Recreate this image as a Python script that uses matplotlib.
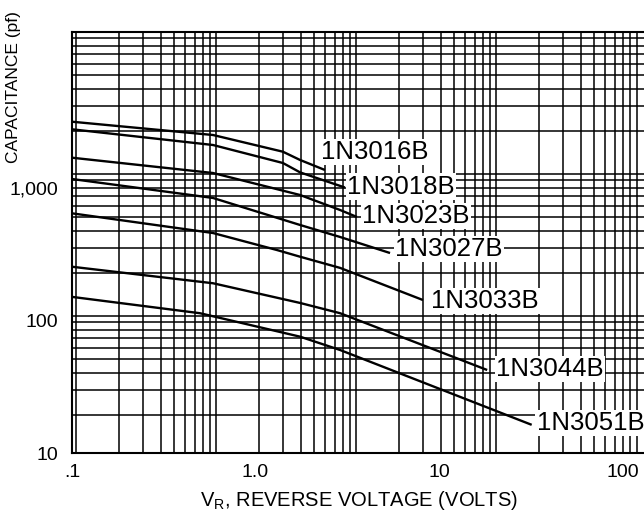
import matplotlib
matplotlib.use('Agg')
import matplotlib.pyplot as plt
from matplotlib.ticker import LogLocator, NullFormatter, FixedLocator, FixedFormatter

# curves (volts, pF)
v_3016 = [0.1, 0.587, 1.41, 1.75, 2.39]
c_3016 = [3131, 2486, 1861, 1612, 1355]
v_3018 = [0.1, 0.587, 1.41, 1.75, 3.07]
c_3018 = [2745, 2090, 1530, 1300, 1000]
v_3023 = [0.1, 0.587, 1.75, 2.89, 3.57]
c_3023 = [1677, 1286, 878, 677, 600]
v_3027 = [0.1, 0.587, 1.75, 2.89, 5.41]
c_3027 = [1159, 834, 522, 424, 321]
v_3033 = [0.1, 0.587, 1.31, 1.75, 2.89, 8.18]
c_3033 = [639, 454, 338, 301, 248, 142]
v_3044 = [0.1, 0.587, 1.75, 2.89, 18.3]
c_3044 = [253, 190, 135, 113, 42.2]
v_3051 = [0.1, 0.498, 1.75, 2.89, 32.0]
c_3051 = [150, 113, 75.2, 59.7, 16.3]

names = ['1N3016B', '1N3018B', '1N3023B', '1N3027B', '1N3033B', '1N3044B', '1N3051B']
volts = [v_3016, v_3018, v_3023, v_3027, v_3033, v_3044, v_3051]
caps = [c_3016, c_3018, c_3023, c_3027, c_3033, c_3044, c_3051]
# label offsets from the end of each curve (pixels)
offsets = [(-4, 18), (2, 1), (5, 1), (5, 4), (8, -1), (9, 1), (5, 2)]

x_ticks = [0.1, 1, 10, 100]
x_labels = ['.1', '1.0', '10', '100']
y_ticks = [10, 100, 1000]
y_labels = ['10', '100', '1,000']

plt.rcParams['font.family'] = ['Liberation Sans', 'DejaVu Sans']

fig = plt.figure(figsize=(6.44, 5.21), dpi=100)
rect = [72 / 644, 68 / 521, 574 / 644, 421.3 / 521]

# log paper underneath (its decades don't line up with the printed labels)
gx = fig.add_axes(rect, zorder=0)
gx.set_xscale('log')
gx.set_yscale('log')
gx.set_xlim(0.929, 11690)
gx.set_ylim(1.0844, 1004.9)
for axis in (gx.xaxis, gx.yaxis):
    axis.set_major_locator(LogLocator(base=10))
    axis.set_minor_locator(LogLocator(base=10, subs=range(2, 10)))
gx.grid(True, which='both', color='black', lw=1.1)
gx.tick_params(which='both', length=0, labelbottom=False, labelleft=False)
for s in gx.spines.values():
    s.set_visible(False)

ax = fig.add_axes(rect, zorder=1)
ax.patch.set_alpha(0)
ax.set_xscale('log')
ax.set_yscale('log')
ax.set_xlim(0.1, 134.3)
ax.set_ylim(10, 14920)

for name, v, c, (dx, dy) in zip(names, volts, caps, offsets):
    ax.plot(v, c, color='black', lw=1.7, solid_capstyle='butt')
    ax.annotate(name, xy=(v[-1], c[-1]), xytext=(dx, dy), textcoords='offset pixels',
                ha='left', va='center', fontsize=18.5,
                bbox=dict(boxstyle='square,pad=0.05', fc='white', ec='none'))

ax.xaxis.set_major_locator(FixedLocator(x_ticks))
ax.xaxis.set_major_formatter(FixedFormatter(x_labels))
ax.xaxis.set_minor_formatter(NullFormatter())
ax.yaxis.set_major_locator(FixedLocator(y_ticks))
ax.yaxis.set_major_formatter(FixedFormatter(y_labels))
ax.yaxis.set_minor_formatter(NullFormatter())
ax.tick_params(which='both', length=0)
ax.tick_params(axis='x', pad=8, labelsize=14)
ax.tick_params(axis='y', pad=10, labelsize=14)

for side in ['left', 'bottom', 'top']:
    ax.spines[side].set_linewidth(1.5)
ax.spines['right'].set_visible(False)

ax.set_xlabel(r'V$_\mathregular{R}$, REVERSE VOLTAGE (VOLTS)', fontsize=14.5, labelpad=6)
fig.text(14 / 644, 1 - 87 / 521, 'CAPACITANCE (pf)', rotation=90,
         fontsize=12.5, ha='center', va='center')

fig.savefig('out.png', dpi=100)
